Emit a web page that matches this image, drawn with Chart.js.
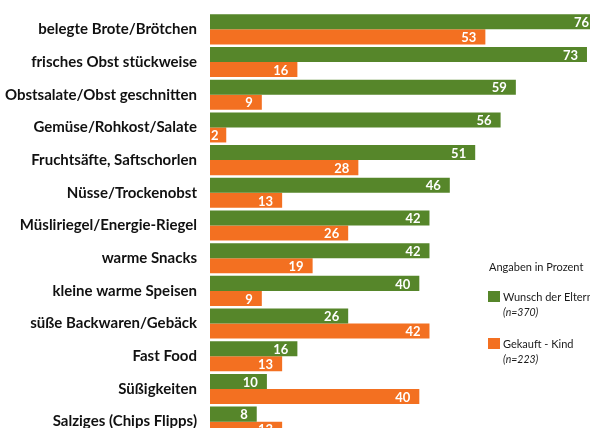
<!DOCTYPE html>
<html>
<head>
<meta charset="utf-8">
<script src="https://cdn.jsdelivr.net/npm/chart.js@4"></script>
<style>
  html, body { margin: 0; padding: 0; background: #fff; overflow: hidden; }
  #wrap { width: 620px; height: 469px; margin-top: -9px; }
</style>
</head>
<body>
<div id="wrap"><canvas id="chartCanvas" width="620" height="469"></canvas></div>
<script>
  var categories = [
    'belegte Brote/Brötchen',
    'frisches Obst stückweise',
    'Obstsalate/Obst geschnitten',
    'Gemüse/Rohkost/Salate',
    'Fruchtsäfte, Saftschorlen',
    'Nüsse/Trockenobst',
    'Müsliriegel/Energie-Riegel',
    'warme Snacks',
    'kleine warme Speisen',
    'süße Backwaren/Gebäck',
    'Fast Food',
    'Süßigkeiten',
    'Salziges (Chips Flipps)'
  ];
  var wunschEltern = [76, 73, 59, 56, 51, 46, 42, 42, 40, 26, 16, 10, 8];
  var gekauftKind = [53, 16, 9, 2, 28, 13, 26, 19, 9, 42, 13, 40, 13];
  var seriesNames = ['Wunsch der Eltern', 'Gekauft - Kind'];
  var seriesNotes = ['(n=370)', '(n=223)'];
  var legendTitle = 'Angaben in Prozent';

  var GREEN = '#56862a';
  var ORANGE = '#f37021';
  var FONT = "Lato, 'DejaVu Sans Condensed', sans-serif";
  var AXIS_START = -1.2;
  var SHIFT = 9; // canvas is moved up by this in the page

  // white numbers inside the end of each bar
  var valueLabels = {
    id: 'valueLabels',
    afterDatasetsDraw: function(chart) {
      var ctx = chart.ctx;
      ctx.save();
      ctx.font = 'bold 13px ' + FONT;
      ctx.fillStyle = '#ffffff';
      ctx.textAlign = 'right';
      ctx.textBaseline = 'middle';
      chart.data.datasets.forEach(function(ds, i) {
        chart.getDatasetMeta(i).data.forEach(function(bar, j) {
          var text = String(ds.data[j]);
          var w = ctx.measureText(text).width;
          var x = Math.max(bar.x - 9, bar.base + w + 1);
          x = Math.min(x, 589);
          ctx.fillText(text, x, bar.y + 1);
        });
      });
      ctx.restore();
    }
  };

  // legend block on the right side
  var sideLegend = {
    id: 'sideLegend',
    afterDraw: function(chart) {
      var ctx = chart.ctx;
      var left = 488;
      ctx.save();
      ctx.translate(0, SHIFT);
      ctx.textBaseline = 'middle';
      ctx.textAlign = 'left';
      ctx.fillStyle = '#1a1a1a';
      ctx.font = '11px ' + FONT;
      ctx.fillText(legendTitle, left + 1, 267);
      chart.data.datasets.forEach(function(ds, i) {
        var top = 291 + i * 47;
        ctx.fillStyle = ds.backgroundColor;
        ctx.fillRect(left, top, 12, 11);
        ctx.fillStyle = '#1a1a1a';
        ctx.font = '11px ' + FONT;
        ctx.fillText(ds.label, left + 15, top + 6);
        ctx.font = 'italic 10.5px ' + FONT;
        ctx.fillText(seriesNotes[i], left + 15, top + 22);
      });
      ctx.restore();
    }
  };

  var ctx = document.getElementById('chartCanvas');
  new Chart(ctx, {
    type: 'bar',
    data: {
      labels: categories,
      datasets: [
        {
          label: seriesNames[0],
          data: wunschEltern,
          backgroundColor: GREEN,
          base: AXIS_START,
          borderWidth: 0,
          categoryPercentage: 0.92,
          barPercentage: 1.0
        },
        {
          label: seriesNames[1],
          data: gekauftKind,
          backgroundColor: ORANGE,
          base: AXIS_START,
          borderWidth: 0,
          categoryPercentage: 0.92,
          barPercentage: 1.0
        }
      ]
    },
    options: {
      indexAxis: 'y',
      responsive: false,
      animation: false,
      devicePixelRatio: 1,
      layout: { padding: { top: 4, bottom: 4, left: 0, right: 0 } },
      plugins: {
        legend: { display: false },
        tooltip: { enabled: false }
      },
      scales: {
        x: { display: false, min: AXIS_START, max: 79.5 },
        y: {
          grid: { display: false, drawTicks: false },
          border: { display: false },
          ticks: {
            color: '#111111',
            padding: 13,
            font: { family: FONT, size: 15, weight: 'bold' }
          },
          afterFit: function(scale) { scale.width = 210; }
        }
      }
    },
    plugins: [valueLabels, sideLegend]
  });
</script>
</body>
</html>
